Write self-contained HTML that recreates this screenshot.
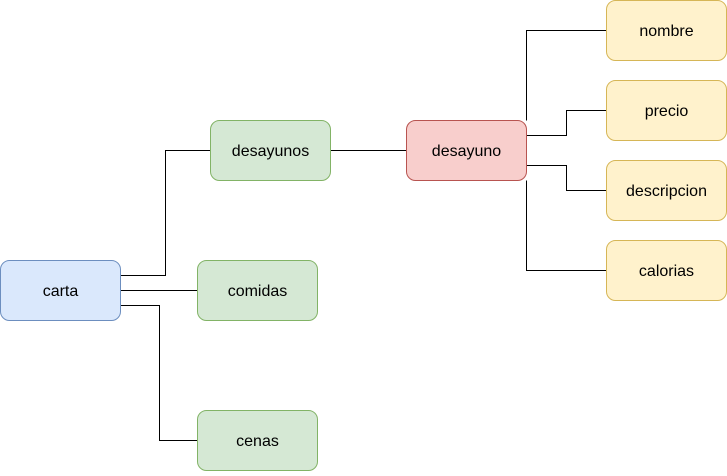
<!DOCTYPE html>
<html><head><meta charset="utf-8"><style>body{margin:0;background:#fff}</style></head><body>
<svg width="727" height="471" xmlns="http://www.w3.org/2000/svg" font-family="Liberation Sans, Arial, sans-serif" font-size="16">
<g fill="none" stroke="#000" stroke-width="1">
<path d="M120.5 275.5H165.5V150.5H210.5"/>
<path d="M120.5 290.5H197.5"/>
<path d="M120.5 305.5H159.5V440.5H197.5"/>
<path d="M330.5 150.5H406.5"/>
<path d="M526.5 120.5V30.5H607"/>
<path d="M526.5 135.5H566.5V110.5H607"/>
<path d="M526.5 165.5H566.5V190.5H607"/>
<path d="M526.5 180.5V270.5H607"/>
</g>
<g text-anchor="middle" dominant-baseline="central" fill="#000">
<rect x="0.5" y="260.5" width="120" height="60" rx="9" fill="#dae8fc" stroke="#6c8ebf"/><text x="60.5" y="291.5">carta</text>
<rect x="210.5" y="120.5" width="120" height="60" rx="9" fill="#d5e8d4" stroke="#82b366"/><text x="270.5" y="151.5">desayunos</text>
<rect x="197.5" y="260.5" width="120" height="60" rx="9" fill="#d5e8d4" stroke="#82b366"/><text x="257.5" y="291.5">comidas</text>
<rect x="197.5" y="410.5" width="120" height="60" rx="9" fill="#d5e8d4" stroke="#82b366"/><text x="257.5" y="441.5">cenas</text>
<rect x="406.5" y="120.5" width="120" height="60" rx="9" fill="#f8cecc" stroke="#b85450"/><text x="466.5" y="151.5">desayuno</text>
<rect x="606.5" y="0.5" width="120" height="60" rx="9" fill="#fff2cc" stroke="#d6b656"/><text x="666.5" y="31.5">nombre</text>
<rect x="606.5" y="80.5" width="120" height="60" rx="9" fill="#fff2cc" stroke="#d6b656"/><text x="666.5" y="111.5">precio</text>
<rect x="606.5" y="160.5" width="120" height="60" rx="9" fill="#fff2cc" stroke="#d6b656"/><text x="666.5" y="191.5">descripcion</text>
<rect x="606.5" y="240.5" width="120" height="60" rx="9" fill="#fff2cc" stroke="#d6b656"/><text x="666.5" y="271.5">calorias</text>
</g>
</svg>
</body></html>
